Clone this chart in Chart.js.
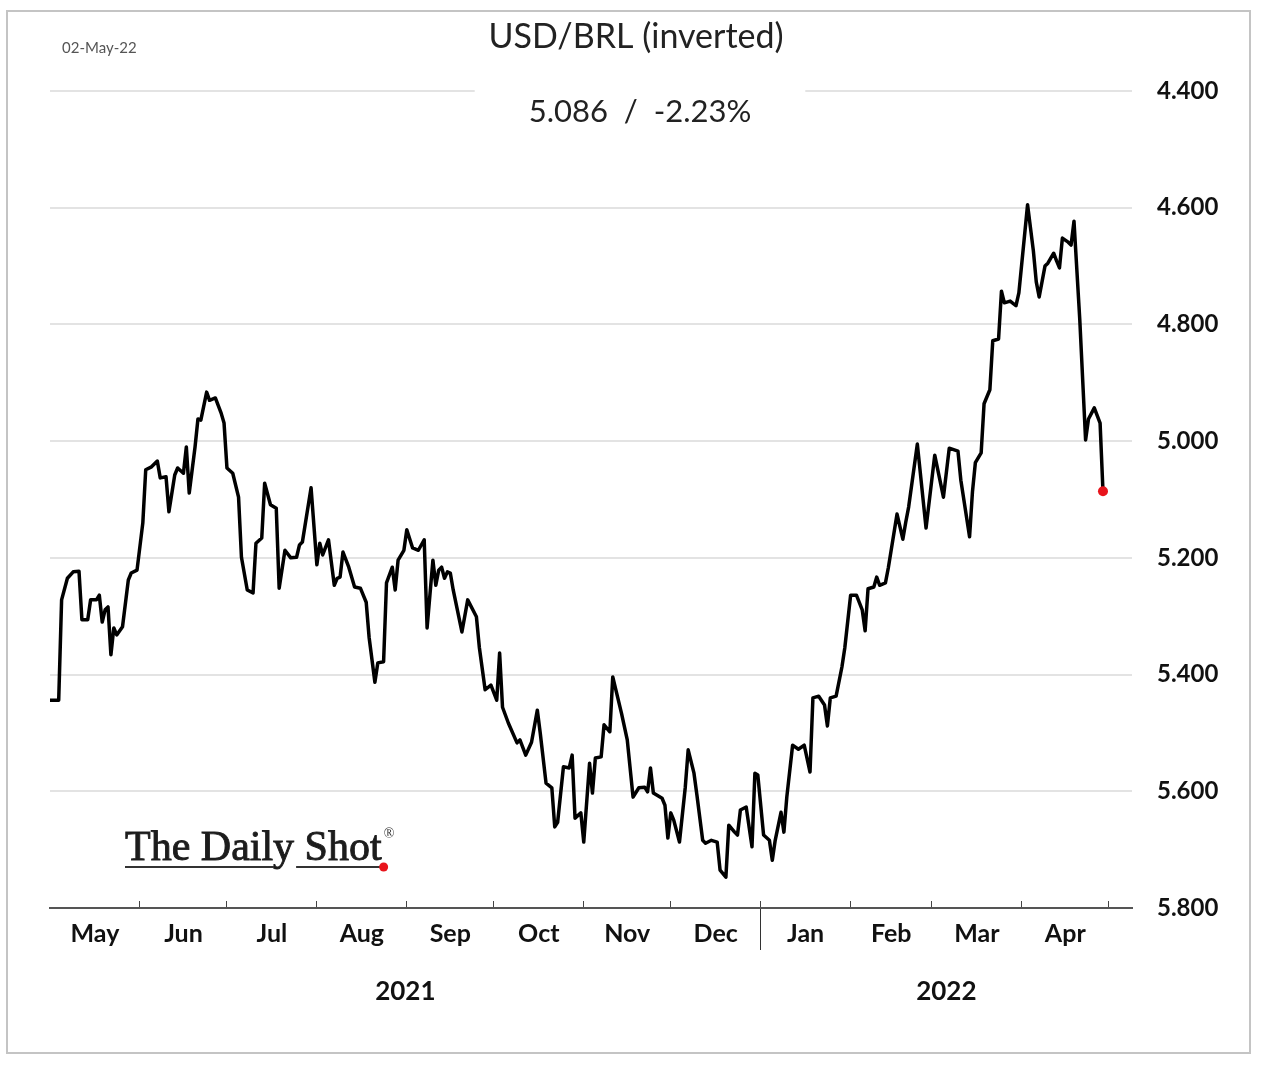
<!DOCTYPE html>
<html lang="en">
<head>
<meta charset="UTF-8">
<title>USD/BRL (inverted)</title>
<script src="https://cdn.jsdelivr.net/npm/chart.js"></script>
<style>
  html, body { margin: 0; padding: 0; background: #fff; }
  canvas { display: block; }
</style>
</head>
<body>
<canvas id="fx" width="1266" height="1068"></canvas>
<script>
// x = days since 1 May 2021, y = USD/BRL
const days = [
  0, 3, 4, 6, 8, 10, 11, 13, 14, 16, 17, 18, 19, 20, 21, 22, 23, 25, 27, 28,
  30, 32, 33, 35, 37, 38, 40, 41, 43, 44, 46, 47, 48, 50, 51, 52, 54, 55, 57, 59,
  60, 61, 63, 65, 66, 68, 70, 71, 73, 74, 76, 78, 79, 81, 83, 85, 86, 87, 90, 92,
  93, 94, 96, 98, 99, 100, 101, 103, 105, 107, 109, 110, 112, 113, 115, 116, 118, 119, 120, 122,
  123, 125, 127, 129, 130, 132, 133, 134, 135, 136, 137, 138, 139, 142, 144, 147, 148, 150, 152, 154,
  155, 156, 158, 161, 162, 164, 166, 168, 169, 171, 173, 174, 175, 177, 179, 180, 181, 183, 184, 186,
  187, 188, 190, 191, 193, 194, 197, 199, 201, 203, 205, 206, 207, 208, 211, 212, 213, 214, 215, 217,
  219, 220, 222, 223, 225, 226, 228, 230, 231, 233, 234, 236, 237, 238, 240, 242, 243, 244, 246, 248,
  249, 250, 252, 253, 254, 256, 258, 260, 262, 263, 265, 267, 268, 269, 271, 273, 274, 276, 278, 280,
  281, 282, 284, 285, 286, 288, 289, 292, 294, 295, 296, 299, 302, 305, 308, 310, 313, 314, 317, 318,
  319, 321, 322, 324, 325, 327, 328, 329, 331, 333, 334, 337, 339, 340, 341, 343, 344, 346, 347, 348,
  349, 351, 352, 353, 355, 357, 358, 360, 362, 363
];
const rates = [
  5.444, 5.444, 5.272, 5.235, 5.224, 5.223, 5.306, 5.306, 5.272, 5.272, 5.264, 5.310, 5.289, 5.284, 5.366, 5.320, 5.332, 5.318, 5.238, 5.226,
  5.221, 5.140, 5.049, 5.044, 5.034, 5.063, 5.061, 5.121, 5.058, 5.046, 5.055, 5.010, 5.089, 5.010, 4.962, 4.964, 4.916, 4.930, 4.926, 4.952,
  4.969, 5.046, 5.055, 5.096, 5.199, 5.255, 5.260, 5.175, 5.166, 5.072, 5.109, 5.115, 5.252, 5.187, 5.200, 5.199, 5.178, 5.173, 5.080, 5.212,
  5.175, 5.195, 5.169, 5.247, 5.235, 5.233, 5.190, 5.216, 5.250, 5.252, 5.276, 5.336, 5.413, 5.380, 5.378, 5.243, 5.216, 5.255, 5.204, 5.187,
  5.152, 5.183, 5.187, 5.169, 5.320, 5.204, 5.247, 5.221, 5.216, 5.235, 5.224, 5.226, 5.255, 5.327, 5.272, 5.301, 5.353, 5.426, 5.418, 5.444,
  5.363, 5.456, 5.483, 5.517, 5.512, 5.538, 5.516, 5.461, 5.500, 5.586, 5.594, 5.661, 5.653, 5.558, 5.560, 5.538, 5.646, 5.637, 5.687, 5.552,
  5.603, 5.543, 5.541, 5.486, 5.498, 5.404, 5.466, 5.512, 5.610, 5.594, 5.593, 5.601, 5.560, 5.603, 5.612, 5.624, 5.680, 5.637, 5.649, 5.687,
  5.593, 5.529, 5.569, 5.606, 5.684, 5.689, 5.684, 5.687, 5.735, 5.747, 5.658, 5.670, 5.675, 5.632, 5.627, 5.695, 5.569, 5.572, 5.675, 5.684,
  5.718, 5.684, 5.636, 5.670, 5.610, 5.521, 5.528, 5.521, 5.567, 5.440, 5.437, 5.452, 5.488, 5.440, 5.437, 5.387, 5.354, 5.264, 5.264, 5.289,
  5.325, 5.253, 5.250, 5.233, 5.247, 5.243, 5.217, 5.125, 5.168, 5.139, 5.113, 5.005, 5.149, 5.024, 5.096, 5.012, 5.017, 5.067, 5.164, 5.087,
  5.037, 5.020, 4.936, 4.912, 4.828, 4.825, 4.743, 4.763, 4.760, 4.768, 4.746, 4.595, 4.674, 4.727, 4.753, 4.700, 4.695, 4.678, 4.691, 4.703,
  4.652, 4.659, 4.664, 4.623, 4.792, 4.998, 4.962, 4.943, 4.969, 5.086
];

// month boundaries, same day count as above (1 May 2021 .. 1 May 2022)
const monthStarts = [0, 31, 61, 92, 123, 153, 184, 214, 245, 276, 304, 335, 365];
const monthNames = ['May', 'Jun', 'Jul', 'Aug', 'Sep', 'Oct', 'Nov', 'Dec', 'Jan', 'Feb', 'Mar', 'Apr'];
const yearNames = ['2021', '2022'];
const yMin = 4.4, yMax = 5.8, yStep = 0.2;
const lastValue = '5.086';
const lastChange = '-2.23%';
const asOf = '02-May-22';
const xMax = 373;

const yearStart = monthStarts[monthNames.indexOf('Jan')];

// month labels sit between the month ticks; the year break gets a long tick
const monthTicks = monthNames.map((n, i) => ({ value: (monthStarts[i] + monthStarts[i + 1]) / 2, label: n }));
monthTicks.push({ value: yearStart, label: '' });
monthTicks.sort((a, b) => a.value - b.value);
const yearTicks = [(monthStarts[0] + yearStart) / 2, (yearStart + xMax) / 2];

const FONT = 'Lato, "Open Sans", sans-serif';

const decor = {
  id: 'decor',
  beforeDraw(chart) {
    const c = chart.ctx;
    c.save();
    c.fillStyle = '#fff';
    c.fillRect(0, 0, chart.width, chart.height);
    c.strokeStyle = '#c4c4c4';
    c.lineWidth = 2;
    c.strokeRect(7, 11, 1243, 1042);
    c.restore();
  },
  beforeDatasetsDraw(chart) {
    // subtitle sits on a white patch over the top gridline
    const c = chart.ctx, a = chart.chartArea;
    const text = lastValue + '  /  ' + lastChange;
    c.save();
    c.font = '31px ' + FONT;
    const w = c.measureText(text).width;
    const cx = 640;
    c.fillStyle = '#fff';
    c.fillRect(cx - w / 2 - 54, a.top - 5, w + 108, 10);
    c.fillStyle = '#222';
    c.textAlign = 'center';
    c.textBaseline = 'middle';
    c.fillText(text, cx, 112);
    c.restore();
  },
  afterDraw(chart) {
    const c = chart.ctx;
    c.save();
    c.fillStyle = '#222';
    c.textAlign = 'center';
    c.textBaseline = 'alphabetic';
    c.font = '34px ' + FONT;
    c.fillText('USD/BRL (inverted)', 636, 48);

    c.fillStyle = '#555';
    c.textAlign = 'left';
    c.textBaseline = 'middle';
    c.font = '15px ' + FONT;
    c.fillText(asOf, 62, 48);

    // logo
    const lx = 125, ly = 860, uy = 867;
    const logo = 'The Daily Shot';
    c.textBaseline = 'alphabetic';
    c.font = '42px "Liberation Serif", serif';
    c.fillStyle = '#1c1c1c';
    c.strokeStyle = '#1c1c1c';
    c.lineWidth = 0.9;
    c.fillText(logo, lx, ly);
    c.strokeText(logo, lx, ly);
    const wAll = c.measureText(logo).width;
    const wDail = c.measureText('The Dail').width;
    const wDaily = c.measureText('The Daily').width;
    c.strokeStyle = '#333';
    c.lineWidth = 2;
    c.beginPath();
    c.moveTo(lx, uy); c.lineTo(lx + wDail + 1, uy);
    c.moveTo(lx + wDaily + 2, uy); c.lineTo(lx + wAll, uy);
    c.stroke();
    c.fillStyle = '#e8141c';
    c.beginPath();
    c.arc(lx + wAll + 2, uy, 4.5, 0, Math.PI * 2);
    c.fill();
    c.fillStyle = '#333';
    c.font = '14px "Liberation Serif", serif';
    c.fillText('\u00AE', lx + wAll + 2, 838);
    c.restore();
  }
};

new Chart(document.getElementById('fx'), {
  type: 'line',
  data: {
    datasets: [{
      data: days.map((d, i) => ({ x: d, y: rates[i] })),
      borderColor: '#000',
      borderWidth: 3.5,
      tension: 0,
      borderJoinStyle: 'round',
      pointRadius: ctx => ctx.dataIndex === days.length - 1 ? 5 : 0,
      pointHoverRadius: 0,
      pointBackgroundColor: '#e8141c',
      pointBorderWidth: 0,
      clip: false
    }]
  },
  options: {
    responsive: false,
    animation: false,
    events: [],
    layout: { padding: { top: 91, left: 50, right: 0, bottom: 0 } },
    plugins: {
      legend: { display: false },
      tooltip: { enabled: false },
      title: { display: false }
    },
    scales: {
      x: {
        type: 'linear', position: 'bottom', weight: 0, min: 0, max: xMax,
        afterBuildTicks: s => { s.ticks = monthStarts.slice(1).map(v => ({ value: v })); },
        afterFit: s => { s.height = 0; },
        ticks: { display: false },
        grid: { drawOnChartArea: false, drawTicks: true, tickLength: -7, tickColor: '#444', tickWidth: 1 },
        border: { display: true, color: '#555', width: 2 }
      },
      xMonths: {
        type: 'linear', position: 'bottom', weight: 1, min: 0, max: xMax,
        afterBuildTicks: s => { s.ticks = monthTicks.map(t => ({ value: t.value })); },
        afterFit: s => { s.height = 60; },
        ticks: {
          autoSkip: false, maxRotation: 0, padding: -31, color: '#111',
          font: { family: FONT, size: 25, weight: 'bold' },
          callback: (v, i) => monthTicks[i].label
        },
        grid: {
          drawOnChartArea: false, drawTicks: true, tickLength: 42, tickWidth: 1,
          tickColor: ctx => (ctx.tick && ctx.tick.value === yearStart) ? '#333' : 'rgba(0,0,0,0)'
        },
        border: { display: false }
      },
      xYears: {
        type: 'linear', position: 'bottom', weight: 2, min: 0, max: xMax,
        afterBuildTicks: s => { s.ticks = yearTicks.map(v => ({ value: v })); },
        afterFit: s => { s.height = 100; },
        ticks: {
          autoSkip: false, maxRotation: 0, padding: 8, color: '#111',
          font: { family: FONT, size: 26, weight: 'bold' },
          callback: (v, i) => yearNames[i]
        },
        grid: { display: false, drawTicks: false },
        border: { display: false }
      },
      y: {
        type: 'linear', position: 'right', reverse: true, min: yMin, max: yMax,
        afterFit: s => { s.width = 134; },
        ticks: {
          stepSize: yStep, padding: 25, color: '#111',
          font: { family: FONT, size: 24, weight: 'bold' },
          callback: v => v.toFixed(3)
        },
        grid: { color: '#e3e3e3', lineWidth: 2, drawTicks: false },
        border: { display: false }
      }
    }
  },
  plugins: [decor]
});
</script>
</body>
</html>
